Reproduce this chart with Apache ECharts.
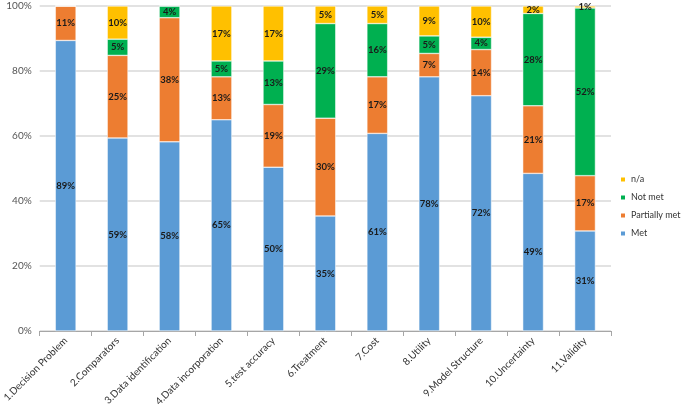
<!DOCTYPE html>
<html>
<head>
<meta charset="utf-8">
<script src="https://cdn.jsdelivr.net/npm/echarts@6/dist/echarts.min.js"></script>
<style>
  html, body { margin: 0; padding: 0; background: #fff; }
  #container { width: 685px; height: 409px; }
</style>
</head>
<body>
<div id="container"></div>
<script>
// categories along the x axis
var categories = ['1.Decision Problem', '2.Comparators', '3.Data identification', '4.Data incorporation',
  '5.test accuracy', '6.Treatment', '7.Cost', '8.Utility', '9.Model Structure', '10.Uncertainty', '11.Validity'];

// share of studies (%)
var met          = [89.4, 59.4, 58.2, 65.0, 50.4, 35.4, 60.8, 78.2, 72.4, 48.5, 30.8];
var partiallyMet = [10.6, 25.4, 38.2, 13.2, 19.3, 30.1, 17.4,  7.2, 14.2, 20.8, 17.0];
var notMet       = [   0,  5.0,  3.6,  4.9, 13.4, 29.1, 16.4,  5.4,  3.8, 28.4, 51.6];
var na           = [   0, 10.2,    0, 16.9, 16.9,  5.4,  5.4,  9.2,  9.6,  2.3,  0.6];

var yTicks = [0, 20, 40, 60, 80, 100];

var dom = document.getElementById('container');
var myChart = echarts.init(dom);
var font = 'Lato, "Open Sans", sans-serif';

function serie(name, data, color) {
  return {
    name: name,
    type: 'bar',
    stack: 'total',
    barWidth: '40%',
    data: data,
    itemStyle: { color: color, borderColor: '#fff', borderWidth: 0.5 },
    label: {
      show: true,
      position: 'inside',
      fontFamily: font,
      fontSize: 9.5,
      fontWeight: 'bold',
      color: '#1a1a1a',
      formatter: function (p) {
        return p.value > 0 ? Math.round(p.value) + '%' : '';
      }
    }
  };
}

var option = {
  animation: false,
  textStyle: { fontFamily: font },
  grid: { left: 35, right: 74, top: 6, bottom: 78 },
  legend: {
    orient: 'vertical',
    left: 619,
    top: 175,
    padding: 0,
    itemWidth: 6,
    itemHeight: 6,
    itemGap: 9,
    icon: 'rect',
    textStyle: { fontFamily: font, fontSize: 9, color: '#333' },
    data: ['n/a', 'Not met', 'Partially met', 'Met']
  },
  xAxis: {
    type: 'category',
    data: categories,
    axisLine: { lineStyle: { color: '#a6a6a6' } },
    axisTick: { show: true, lineStyle: { color: '#a6a6a6' } },
    axisLabel: { rotate: 45, fontSize: 10, color: '#333', interval: 0, margin: 8 }
  },
  yAxis: {
    type: 'value',
    min: yTicks[0],
    max: yTicks[yTicks.length - 1],
    interval: 20,
    axisLine: { show: false },
    axisTick: { show: false },
    axisLabel: { formatter: '{value}%', fontSize: 10, color: '#555', margin: 8 },
    splitLine: { lineStyle: { color: '#d9d9d9', width: 1.5 } }
  },
  series: [
    serie('Met', met, '#5b9bd5'),
    serie('Partially met', partiallyMet, '#ed7d31'),
    serie('Not met', notMet, '#00b050'),
    serie('n/a', na, '#ffc000')
  ]
};

if (option && typeof option === 'object') {
  myChart.setOption(option, true);
}
</script>
</body>
</html>
